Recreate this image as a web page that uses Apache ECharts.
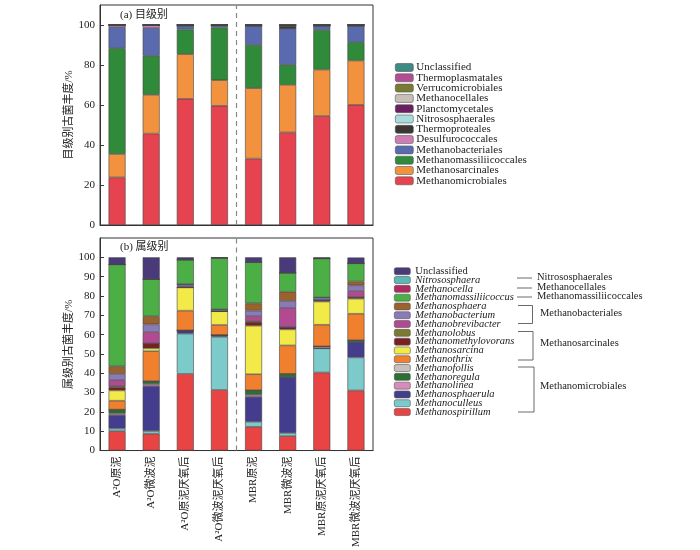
<!DOCTYPE html>
<html><head><meta charset="utf-8">
<script src="https://cdn.jsdelivr.net/npm/echarts@6/dist/echarts.min.js"></script>
<style>html,body{margin:0;padding:0;background:#fff}#c{width:700px;height:550px}</style>
</head><body><div id="c"></div>
<script>
const categories = ['A²O原泥','A²O微波泥','A²O原泥厌氧后','A²O微波泥厌氧后','MBR原泥','MBR微波泥','MBR原泥厌氧后','MBR微波泥厌氧后'];
const yTicksTop = [0,20,40,60,80,100];
const yTicksBottom = [0,10,20,30,40,50,60,70,80,90,100];

// (a) order level, stacked bottom-up
const orderNames = ['Methanomicrobiales','Methanosarcinales','Methanomassiliicoccales','Methanobacteriales','Desulfurococcales','Thermoproteales','Nitrososphaerales','Planctomycetales','Methanocellales','Verrucomicrobiales','Thermoplasmatales','Unclassified'];
const orderColors = ['#e4434f','#f3923e','#2f8a3a','#5a6aae','#d07cb4','#3a3632','#a8dcdc','#6a2060','#c8c0b8','#7a7a34','#b34e95','#3f8a84'];
const Methanomicrobiales      = [23.8,45.7,63.1,59.6,33.2,46.3,54.5,60.1];
const Methanosarcinales       = [11.7,19.4,22.3,12.8,35.2,23.8,23.2,22.1];
const Methanomassiliicoccales = [52.9,19.5,12.4,26.4,21.6,10.0,19.8, 9.2];
const Methanobacteriales      = [10.5,13.9, 1.8, 1.2, 9.5,18.2, 2.0, 8.1];
const Desulfurococcales       = [ 1.1, 1.5, 0, 0, 0, 0, 0, 0];
const Thermoproteales         = [ 0, 0, 0.4, 0, 0.5, 1.2, 0.5, 0.5];
const Nitrososphaerales       = [0,0,0,0,0,0,0,0];
const Planctomycetales        = [0,0,0,0,0,0.5,0,0];
const Methanocellales         = [0,0,0,0,0,0,0,0];
const Verrucomicrobiales      = [0,0,0,0,0,0,0,0];
const Thermoplasmatales       = [0,0,0,0,0,0,0,0];
const UnclassifiedOrder       = [0,0,0,0,0,0,0,0];
const orderData = [Methanomicrobiales,Methanosarcinales,Methanomassiliicoccales,Methanobacteriales,Desulfurococcales,Thermoproteales,Nitrososphaerales,Planctomycetales,Methanocellales,Verrucomicrobiales,Thermoplasmatales,UnclassifiedOrder];

// (b) genus level, stacked bottom-up
const genusNames = ['Methanospirillum','Methanoculleus','Methanosphaerula','Methanolinea','Methanoregula','Methanofollis','Methanothrix','Methanosarcina','Methanomethylovorans','Methanolobus','Methanobrevibacter','Methanobacterium','Methanosphaera','Methanomassiliicoccus','Methanocella','Nitrososphaera','Unclassified'];
const genusColors = ['#e84444','#7ccaca','#443c8c','#d88cbc','#2e6e34','#c8c0bc','#f0802e','#f2ea48','#7a2020','#7a7a30','#b24a92','#8a7ab8','#9a622e','#4caf46','#b02a60','#5ab8b8','#4a3a7a'];
const Methanospirillum     = [10.0, 8.7,39.7,31.4,12.3, 7.5,40.4,31.1];
const Methanoculleus       = [ 1.4, 1.4,20.8,27.5, 2.6, 1.6,12.5,17.1];
const Methanosphaerula     = [ 7.0,23.3, 1.7, 0.9,12.9,28.9, 0, 8.0];
const Methanolinea         = [ 0.8, 1.0, 0, 0, 1.0, 0, 1.0, 0];
const Methanoregula        = [ 2.0, 1.5, 0, 0, 2.4, 1.7, 0, 0.9];
const Methanofollis        = [0,0,0,0,0,0,0,0];
const Methanothrix         = [ 4.6,15.5,10.2, 5.2, 8.3,14.7,11.2,13.7];
const Methanosarcina       = [ 5.3, 1.5,12.0, 7.1,25.1, 8.3,12.0, 7.8];
const Methanomethylovorans = [ 1.7, 2.5, 0, 0, 2.0, 1.1, 0.8, 0.8];
const Methanolobus         = [ 0.5, 0, 0, 0, 0.4, 0, 0, 0];
const Methanobrevibacter   = [ 3.1, 6.0, 0.6, 0, 2.5,10.1, 0, 3.2];
const Methanobacterium     = [ 3.3, 3.9, 1.1, 0.9, 2.9, 3.5, 1.3, 2.9];
const Methanosphaera       = [ 3.9, 4.2, 0, 0, 3.8, 4.8, 0, 2.0];
const Methanomassiliicoccus= [52.7,19.2,12.7,26.7,21.3, 9.8,20.2, 9.4];
const Methanocella         = [0,0,0,0,0,0,0,0];
const Nitrososphaera       = [0,0,0,0,0,0,0,0];
const UnclassifiedGenus    = [ 3.7,11.3, 1.2, 0.3, 2.5, 8.0, 0.6, 3.0];
const genusData = [Methanospirillum,Methanoculleus,Methanosphaerula,Methanolinea,Methanoregula,Methanofollis,Methanothrix,Methanosarcina,Methanomethylovorans,Methanolobus,Methanobrevibacter,Methanobacterium,Methanosphaera,Methanomassiliicoccus,Methanocella,Nitrososphaera,UnclassifiedGenus];

const FONT = '"Liberation Serif","Noto Sans CJK SC",serif';
const chart = echarts.init(document.getElementById('c'));

const series = [];
orderNames.forEach((n,i)=>series.push({
  name:n, type:'bar', stack:'a', xAxisIndex:0, yAxisIndex:0, barWidth:17,
  itemStyle:{color:orderColors[i], borderColor:'#444', borderWidth:0.6},
  data:orderData[i]
}));
genusNames.forEach((n,i)=>series.push({
  name:n+' ', type:'bar', stack:'b', xAxisIndex:1, yAxisIndex:1, barWidth:17,
  itemStyle:{color:genusColors[i], borderColor:'#444', borderWidth:0.6},
  data:genusData[i]
}));
[2,3].forEach(ax=>series.push({
  type:'scatter', xAxisIndex:ax, yAxisIndex:ax-2, data:[], silent:true,
  markLine:{symbol:'none', silent:true, label:{show:false},
    lineStyle:{color:'#888', type:[5,4], width:1.2},
    data:[[{coord:[4,0]},{coord:[4,110]}]]}
}));

const yAxisCommon = (ticks, gap, name)=>({
  type:'value', min:ticks[0], max:110, interval:ticks[1]-ticks[0],
  name:name, nameLocation:'middle', nameGap:gap,
  nameTextStyle:{fontFamily:FONT, fontSize:11, color:'#222'},
  axisLine:{show:true, lineStyle:{color:'#333'}},
  axisTick:{show:true, inside:true, length:4, lineStyle:{color:'#333'}},
  axisLabel:{fontFamily:FONT, fontSize:11, color:'#222', margin:5, showMaxLabel:false},
  splitLine:{show:false}
});

chart.setOption({
  animation:false,
  textStyle:{fontFamily:FONT},
  grid:[
    {left:100, right:327, top:5, bottom:325, show:true, borderColor:'#333', borderWidth:1},
    {left:100, right:327, top:238, bottom:94, show:true, borderColor:'#333', borderWidth:1}
  ],
  xAxis:[
    {type:'category', gridIndex:0, data:categories, axisLine:{lineStyle:{color:'#333'}}, axisTick:{show:false}, axisLabel:{show:false}},
    {type:'category', gridIndex:1, data:categories, axisLine:{lineStyle:{color:'#333'}}, axisTick:{show:false},
      axisLabel:{rotate:90, fontFamily:FONT, fontSize:11, color:'#222', margin:6}},
    {type:'value', gridIndex:0, min:0, max:8, show:false},
    {type:'value', gridIndex:1, min:0, max:8, show:false}
  ],
  yAxis:[
    Object.assign(yAxisCommon(yTicksTop, 21, '目级别古菌丰度/%'), {gridIndex:0}),
    Object.assign(yAxisCommon(yTicksBottom, 21, '属级别古菌丰度/%'), {gridIndex:1})
  ],
  legend:[
    {orient:'vertical', left:390, top:57, itemWidth:18, itemHeight:8, itemGap:-0.7,
     data:orderNames.slice().reverse(), selectedMode:false,
     textStyle:{fontFamily:FONT, fontSize:11, color:'#222', padding:[0,0,0,-2]},
     itemStyle:{borderColor:'#555', borderWidth:0.6}},
    {orient:'vertical', left:389, top:261, itemWidth:16, itemHeight:7, itemGap:-1.7,
     data:genusNames.slice().reverse().map(n=>n+' '), selectedMode:false,
     formatter:n=>n.trim()==='Unclassified' ? n.trim() : '{i|'+n.trim()+'}',
     textStyle:{fontFamily:FONT, fontSize:10.5, color:'#222',
       rich:{i:{fontStyle:'italic', fontFamily:FONT, fontSize:10.5, color:'#222'}}},
     itemStyle:{borderColor:'#555', borderWidth:0.6}}
  ],
  graphic:[
    {type:'text', left:120, top:10, style:{text:'(a) 目级别', font:'11px '+FONT, fill:'#222'}},
    {type:'text', left:120, top:242, style:{text:'(b) 属级别', font:'11px '+FONT, fill:'#222'}},
    {type:'line', shape:{x1:517,y1:278,x2:532,y2:278}, style:{stroke:'#444', lineWidth:0.8}},
    {type:'text', left:537, top:272, style:{text:'Nitrososphaerales', font:'10.5px '+FONT, fill:'#222'}},
    {type:'line', shape:{x1:517,y1:288,x2:532,y2:288}, style:{stroke:'#444', lineWidth:0.8}},
    {type:'text', left:537, top:282, style:{text:'Methanocellales', font:'10.5px '+FONT, fill:'#222'}},
    {type:'line', shape:{x1:517,y1:297,x2:532,y2:297}, style:{stroke:'#444', lineWidth:0.8}},
    {type:'text', left:537, top:291, style:{text:'Methanomassiliicoccales', font:'10.5px '+FONT, fill:'#222'}},
    {type:'polyline', shape:{points:[[518,305.5],[532.5,305.5],[532.5,323.5],[518,323.5]]}, style:{stroke:'#444', lineWidth:0.8, fill:null}},
    {type:'text', left:540, top:308, style:{text:'Methanobacteriales', font:'10.5px '+FONT, fill:'#222'}},
    {type:'polyline', shape:{points:[[518,331.5],[533,331.5],[533,360],[518,360]]}, style:{stroke:'#444', lineWidth:0.8, fill:null}},
    {type:'text', left:540, top:338, style:{text:'Methanosarcinales', font:'10.5px '+FONT, fill:'#222'}},
    {type:'polyline', shape:{points:[[518,367],[534,367],[534,412],[518,412]]}, style:{stroke:'#444', lineWidth:0.8, fill:null}},
    {type:'text', left:540, top:381, style:{text:'Methanomicrobiales', font:'10.5px '+FONT, fill:'#222'}}
  ],
  series:series
});
</script></body></html>
